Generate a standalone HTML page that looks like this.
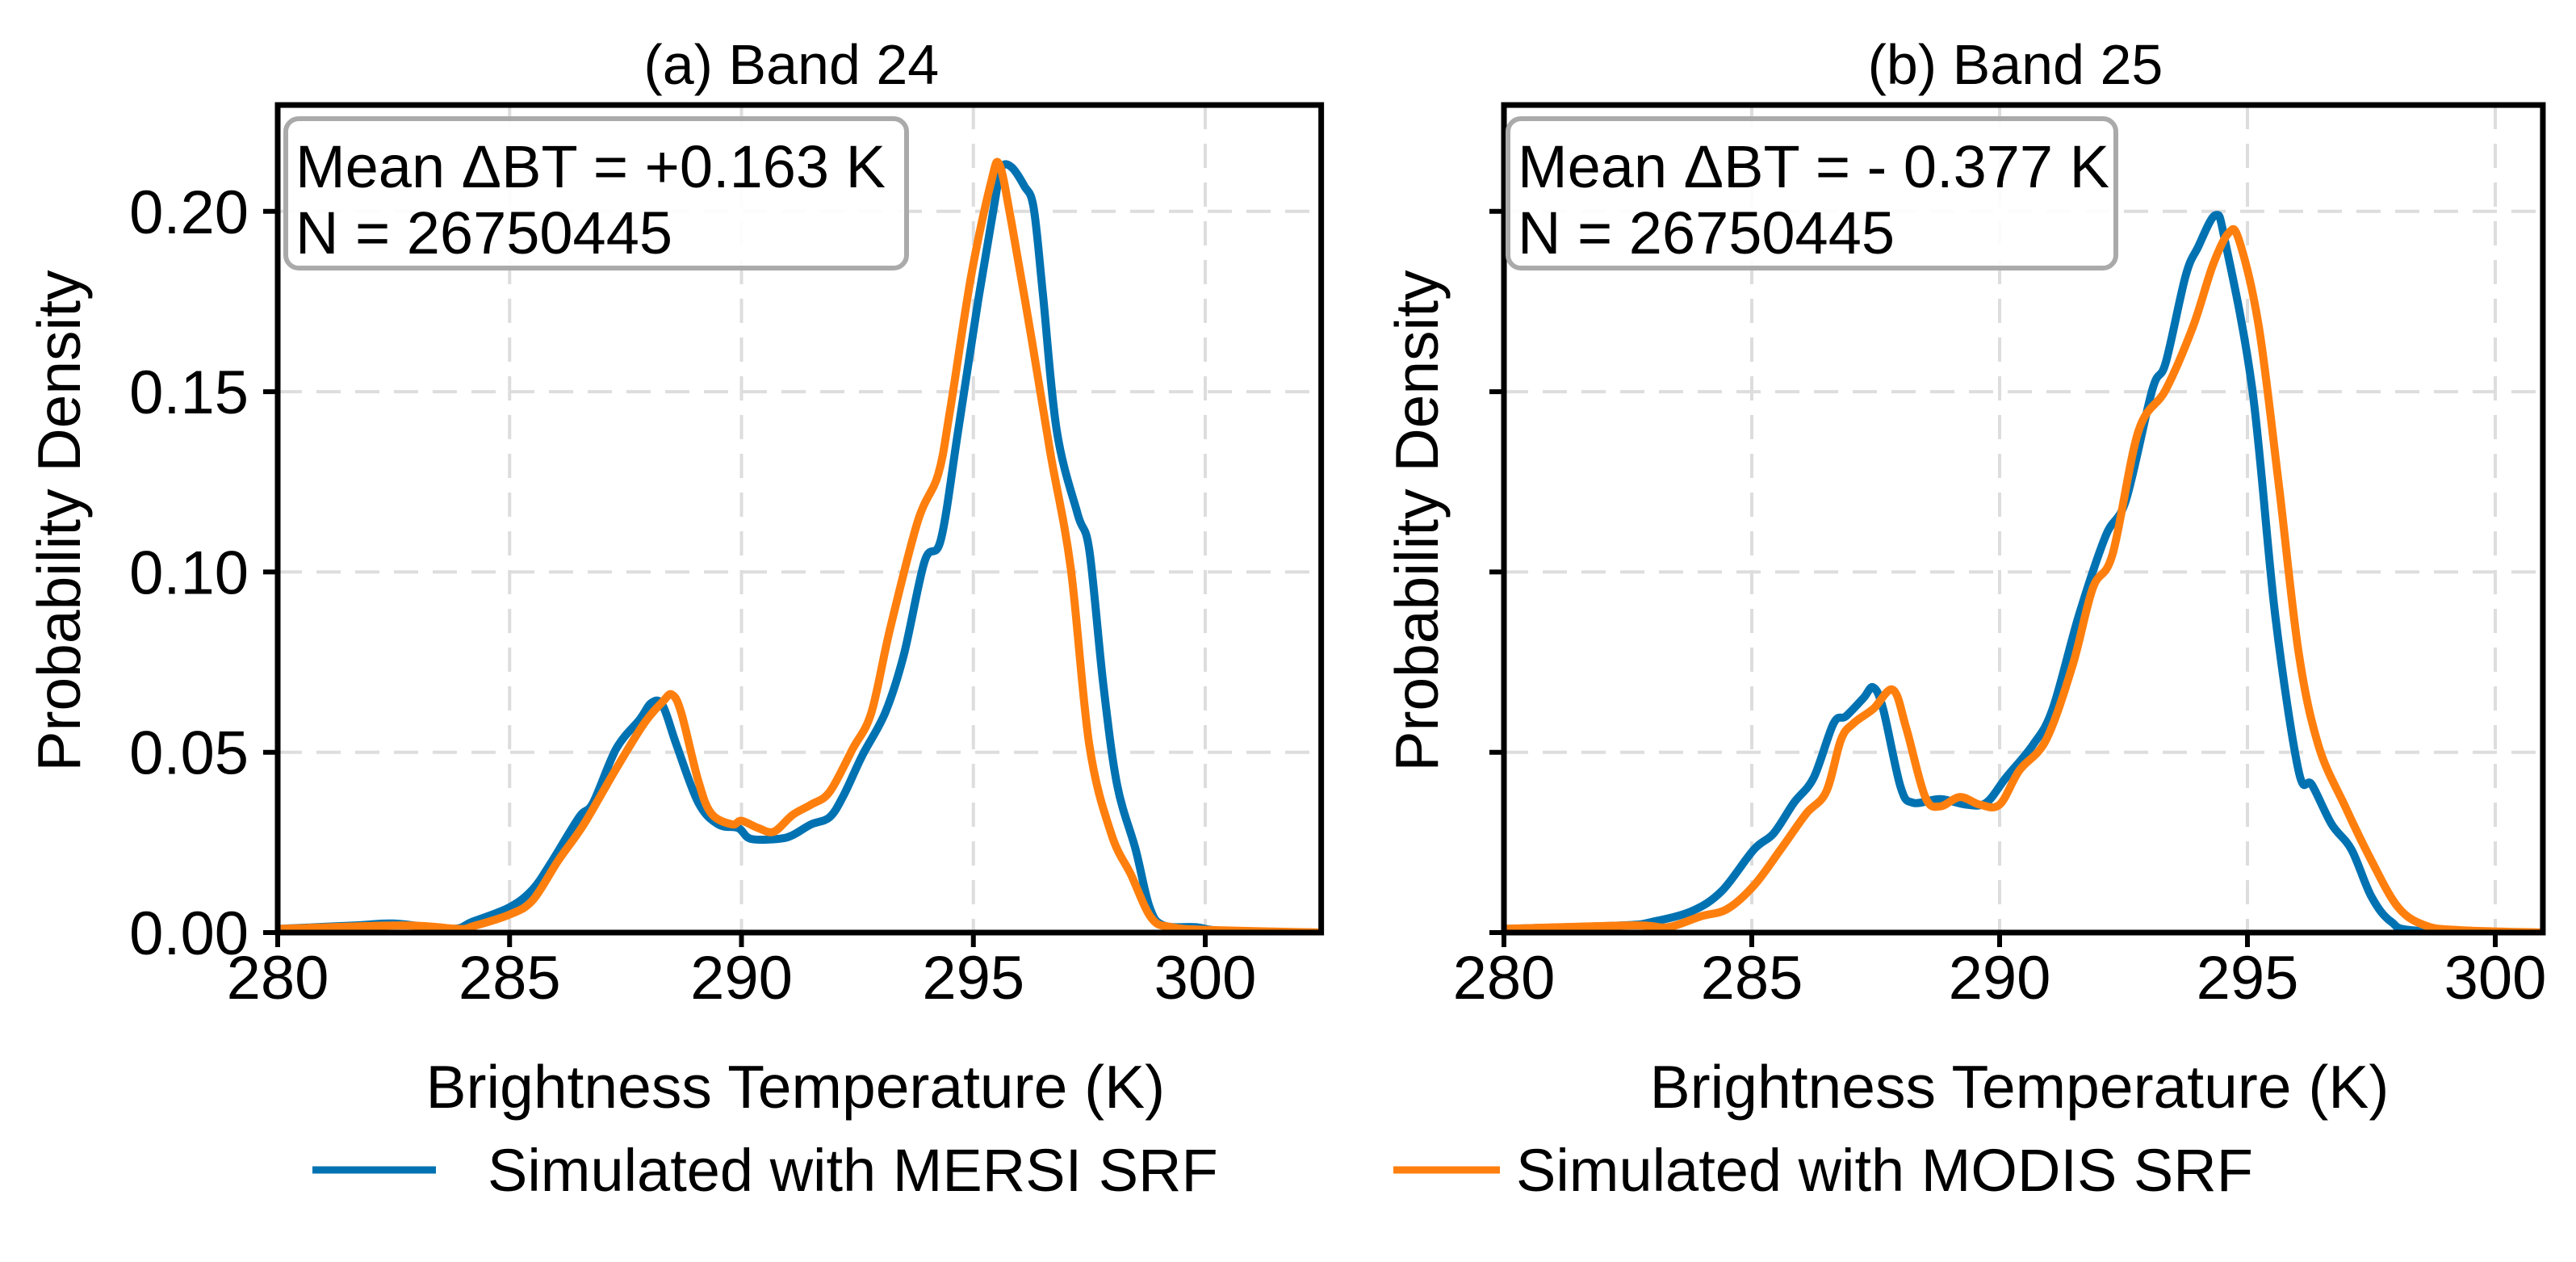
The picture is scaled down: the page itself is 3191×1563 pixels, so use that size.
<!DOCTYPE html>
<html><head><meta charset="utf-8">
<style>
html,body{margin:0;padding:0;background:#fff;}
svg{display:block;}
text{font-family:"Liberation Sans",Arial,sans-serif;fill:#000;}
</style></head>
<body>
<svg id="chart" xmlns="http://www.w3.org/2000/svg" width="3191" height="1563" viewBox="0 0 3191 1563">
<rect width="3191" height="1563" fill="#fff"/>
<g id="layer"></g>
</svg>
<script>
// ---- data ----
const xTicks = [280, 285, 290, 295, 300];
const yTicks = [0.00, 0.05, 0.10, 0.15, 0.20];
const yTickLabels = ["0.00", "0.05", "0.10", "0.15", "0.20"];
const panelTitles = ["(a) Band 24", "(b) Band 25"];
const boxLine1 = ["Mean \u0394BT = +0.163 K", "Mean \u0394BT = - 0.377 K"];
const boxLine2 = ["N = 26750445", "N = 26750445"];
const seriesNames = ["Simulated with MERSI SRF", "Simulated with MODIS SRF"];

const aMersiT = [280,281.7,282.5,283.75,284.2,285,285.5,285.9,286.5,286.8,287.3,287.8,288.06,288.3,288.6,289.07,289.5,289.93,290.2,290.8,291.1,291.5,291.9,292.2,292.6,293.1,293.5,293.95,294.3,294.67,295.1,295.46,295.6,295.82,296.1,296.3,296.5,296.8,297.25,297.5,297.8,298.1,298.5,298.8,299.1,299.8,300.4,302.5];
const aMersiD = [0.001,0.002,0.0025,0.001,0.003,0.007,0.012,0.0195,0.032,0.036,0.051,0.059,0.0637,0.063,0.052,0.036,0.030,0.029,0.026,0.026,0.027,0.030,0.032,0.038,0.049,0.061,0.077,0.103,0.109,0.139,0.175,0.2026,0.212,0.2123,0.207,0.201,0.177,0.139,0.116,0.106,0.069,0.041,0.023,0.007,0.002,0.0015,0.0005,0];
const aModisT = [280,282.7,283.9,284.2,285,285.5,286.05,286.6,287.3,287.9,288.3,288.5,288.7,289.07,289.35,289.8,290.0,290.36,290.7,291.1,291.5,291.9,292.4,292.8,293.2,293.8,294.24,294.5,294.95,295.38,295.56,295.82,296.25,296.66,297.1,297.5,297.97,298.4,298.84,299.27,300.1,302.5];
const aModisD = [0.001,0.002,0.001,0.0017,0.005,0.009,0.020,0.030,0.0455,0.058,0.064,0.066,0.061,0.042,0.033,0.030,0.031,0.029,0.028,0.0326,0.0355,0.039,0.051,0.061,0.084,0.114,0.127,0.145,0.182,0.208,0.213,0.197,0.165,0.133,0.101,0.052,0.0275,0.016,0.004,0.0015,0.0007,0];
const bMersiT = [279.95,282.4,283.0,283.8,284.4,285.04,285.44,285.85,286.25,286.65,286.9,287.25,287.45,287.65,288.0,288.25,288.8,289.33,289.73,290.13,290.67,291.07,291.6,292.14,292.55,293.08,293.35,293.75,294.0,294.36,294.56,295.1,295.56,296.03,296.3,296.7,297.1,297.5,297.9,298.45,300.96];
const bMersiD = [0.001,0.002,0.003,0.006,0.0116,0.023,0.0275,0.036,0.043,0.058,0.060,0.065,0.068,0.062,0.0405,0.036,0.037,0.0355,0.036,0.043,0.052,0.062,0.088,0.110,0.120,0.1505,0.158,0.182,0.190,0.199,0.191,0.1505,0.088,0.045,0.041,0.030,0.023,0.010,0.003,0.0005,0];
const bModisT = [279.95,282.6,283.3,283.97,284.5,285.04,285.58,286.1,286.5,286.8,287.05,287.45,287.85,288.12,288.5,288.8,289.2,289.6,290.0,290.4,290.94,291.47,291.88,292.28,292.8,293.35,293.9,294.3,294.62,294.83,295.23,295.63,296.03,296.43,296.97,297.5,298.04,298.58,299.25,300.96];
const bModisD = [0.001,0.002,0.0015,0.0045,0.0065,0.013,0.023,0.033,0.039,0.0535,0.058,0.062,0.0673,0.0565,0.0376,0.035,0.0376,0.0355,0.0355,0.045,0.0535,0.074,0.0955,0.105,0.139,0.1505,0.168,0.185,0.194,0.192,0.168,0.1245,0.078,0.052,0.035,0.020,0.007,0.002,0.0007,0];

const NS = "http://www.w3.org/2000/svg";
const layer = document.getElementById("layer");
function mk(tag, attrs, parent) {
  const el = document.createElementNS(NS, tag);
  for (const k in attrs) el.setAttribute(k, attrs[k]);
  (parent || layer).appendChild(el);
  return el;
}
function smoothPath(P) {
  let d = "M" + P[0][0].toFixed(1) + "," + P[0][1].toFixed(1);
  for (let i = 0; i < P.length - 1; i++) {
    const p0 = P[Math.max(0, i - 1)], p1 = P[i], p2 = P[i + 1], p3 = P[Math.min(P.length - 1, i + 2)];
    const c1x = p1[0] + (p2[0] - p0[0]) / 6, c1y = p1[1] + (p2[1] - p0[1]) / 6;
    const c2x = p2[0] - (p3[0] - p1[0]) / 6, c2y = p2[1] - (p3[1] - p1[1]) / 6;
    d += " C" + c1x.toFixed(1) + "," + c1y.toFixed(1) + " " + c2x.toFixed(1) + "," + c2y.toFixed(1) + " " + p2[0].toFixed(1) + "," + p2[1].toFixed(1);
  }
  return d;
}
const BLUE = "#0072B2", ORANGE = "#FF7F0E";
const Y0 = 1155, YPX = 4466, YMAX = 0.2295;
const panels = [
  {x0:344, xmin:280, xmax:302.5, kx:57.45, yLabels:true, ylabX:72, box:[354,1123],
   series:[[aMersiT,aMersiD,BLUE,"mersi"],[aModisT,aModisD,ORANGE,"modis"]]},
  {x0:1863, xmin:280, xmax:300.96, kx:61.4, yLabels:false, ylabX:1754, box:[1868,2621],
   series:[[bMersiT,bMersiD,BLUE,"mersi"],[bModisT,bModisD,ORANGE,"modis"]]}
];
panels.forEach((p, i) => {
  const sx = t => p.x0 + (t - p.xmin) * p.kx;
  const sy = d => Y0 - d * YPX;
  const L = sx(p.xmin), R = sx(p.xmax), T = sy(YMAX), B = sy(0);
  const g = mk("g", {});
  
  
  const cp = mk("clipPath", {id: "clip" + i}, g);
  mk("rect", {x: L, y: T, width: R - L, height: B - T}, cp);
  xTicks.forEach(t => {
    const ln = mk("line", {x1: sx(t), x2: sx(t), y1: T, y2: B, stroke: "#dddddd", "stroke-width": 4, "stroke-dasharray": "30,18"}, g);
    
    
  });
  yTicks.forEach(v => {
    const ln = mk("line", {x1: L, x2: R, y1: sy(v), y2: sy(v), stroke: "#dddddd", "stroke-width": 4, "stroke-dasharray": "30,18"}, g);
    
    
  });
  p.series.forEach(s => {
    const [ts, ds, col, nm] = s;
    const P = ts.map((t, k) => [sx(t), sy(ds[k])]);
    const pl = mk("path", {d: smoothPath(P), fill: "none", stroke: col, "stroke-width": 10, "stroke-linejoin": "round", "stroke-linecap": "round", "clip-path": "url(#clip" + i + ")"}, g);
    
    
  });
  const fr = mk("rect", {x: L, y: T, width: R - L, height: B - T, fill: "none", stroke: "#000", "stroke-width": 7}, g);
  
  
  xTicks.forEach(t => {
    const tk = mk("line", {x1: sx(t), x2: sx(t), y1: B, y2: B + 18, stroke: "#000", "stroke-width": 6}, g);
    
    
    const tx = mk("text", {x: sx(t), y: B + 82, "font-size": 76, "text-anchor": "middle"}, g);
    tx.textContent = String(t);
    
    
  });
  yTicks.forEach((v, k) => {
    const tk = mk("line", {x1: L - 18, x2: L, y1: sy(v), y2: sy(v), stroke: "#000", "stroke-width": 6}, g);
    
    
    if (p.yLabels) {
      const tx = mk("text", {x: L - 36, y: sy(v) + 27, "font-size": 76, "text-anchor": "end"}, g);
      tx.textContent = yTickLabels[k];
      
      
    }
  });
  const xl = mk("text", {x: (L + R) / 2 - 5, y: 1372, "font-size": 75, "text-anchor": "middle"}, g);
  xl.textContent = "Brightness Temperature (K)";
  
  
  const yl = mk("text", {x: 0, y: 0, "font-size": 75, "text-anchor": "middle", transform: "translate(" + (p.ylabX + 27) + ",645) rotate(-90)"}, g);
  yl.textContent = "Probability Density";
  
  
  const tt = mk("text", {x: (L + R) / 2 - 10, y: 104, "font-size": 70, "text-anchor": "middle"}, g);
  tt.textContent = panelTitles[i];
  
  
  const bx = mk("rect", {x: p.box[0], y: 147, width: p.box[1] - p.box[0], height: 185, rx: 16, fill: "#fff", "fill-opacity": 0.9, stroke: "#aaa", "stroke-width": 6}, g);
  
  
  const t1 = mk("text", {x: p.box[0] + 12, y: 232, "font-size": 74}, g);
  t1.textContent = boxLine1[i];
  
  
  const t2 = mk("text", {x: p.box[0] + 12, y: 314, "font-size": 74}, g);
  t2.textContent = boxLine2[i];
  
  
});
const lg = mk("g", {});


[[387, 540, 604, BLUE], [1726, 1858, 1878, ORANGE]].forEach((e, k) => {
  const eg = mk("g", {}, lg);
  
  
  mk("line", {x1: e[0], x2: e[1], y1: 1449, y2: 1449, stroke: e[3], "stroke-width": 9}, eg);
  const tx = mk("text", {x: e[2], y: 1475, "font-size": 74}, eg);
  tx.textContent = seriesNames[k];
});
</script>
</body></html>
